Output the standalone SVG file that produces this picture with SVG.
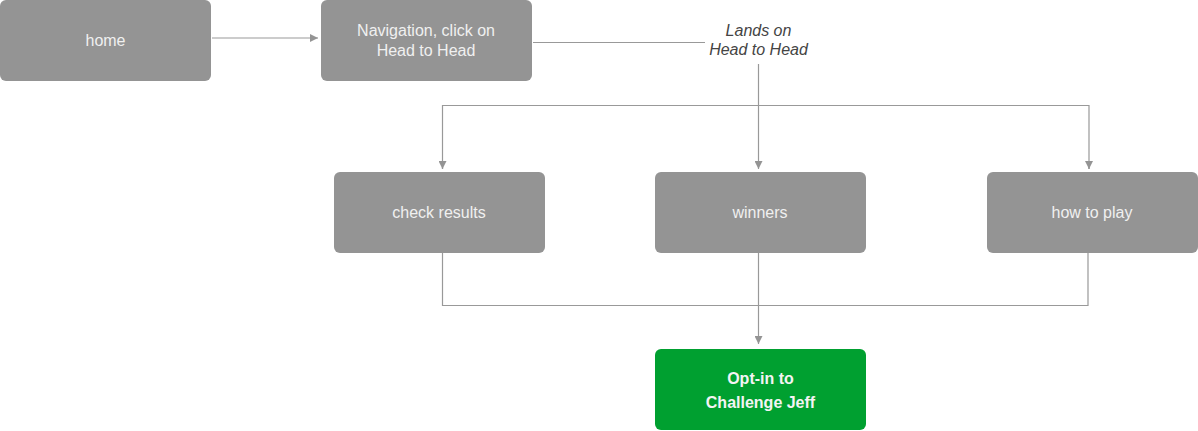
<svg xmlns="http://www.w3.org/2000/svg" width="1198" height="431" viewBox="0 0 1198 431">
<defs>
<marker id="ah" viewBox="0 0 10 10" refX="10" refY="5" markerWidth="8" markerHeight="8" markerUnits="userSpaceOnUse" orient="auto">
<path d="M0,0 L10,5 L0,10 z" fill="#949494"/>
</marker>
<style>
.box{fill:#949494}
.green{fill:#00a030}
.t{font-family:"Liberation Sans",Arial,sans-serif;font-size:16px;fill:#f0f0f0;text-anchor:middle}
.b{font-weight:bold;fill:#f4f4f4}
.lbl{font-family:"Liberation Sans",Arial,sans-serif;font-size:16px;font-style:italic;fill:#444;text-anchor:middle}
.c{fill:none;stroke:#999;stroke-width:1.2}
</style>
</defs>
<g id="connectors">
<line class="c" x1="212" y1="38" x2="318" y2="38" marker-end="url(#ah)"/>
<line class="c" x1="533" y1="42.5" x2="705" y2="42.5"/>
<line class="c" x1="758.5" y1="64" x2="758.5" y2="169" marker-end="url(#ah)"/>
<polyline class="c" points="442.5,169 442.5,105.5 1089,105.5 1089,169"/>
<line class="c" x1="442.5" y1="167" x2="442.5" y2="169" marker-end="url(#ah)"/>
<line class="c" x1="1089" y1="167" x2="1089" y2="169" marker-end="url(#ah)"/>
<polyline class="c" points="442.5,253 442.5,305.5 1088,305.5 1088,253"/>
<line class="c" x1="758.5" y1="253" x2="758.5" y2="344" marker-end="url(#ah)"/>
<text class="lbl" x="758.5" y="36">Lands on</text>
<text class="lbl" x="758.5" y="55">Head to Head</text>
</g>
<g id="home">
<rect class="box" x="0" y="0" width="211" height="81" rx="6"/>
<text class="t" x="105.5" y="46">home</text>
</g>
<g id="navigation">
<rect class="box" x="321" y="0" width="211" height="81" rx="6"/>
<text class="t" x="426" y="36">Navigation, click on</text>
<text class="t" x="426" y="56">Head to Head</text>
</g>
<g id="check-results">
<rect class="box" x="334" y="172" width="211" height="81" rx="6"/>
<text class="t" x="439" y="218">check results</text>
</g>
<g id="winners">
<rect class="box" x="655" y="172" width="211" height="81" rx="6"/>
<text class="t" x="760" y="218">winners</text>
</g>
<g id="how-to-play">
<rect class="box" x="987" y="172" width="211" height="81" rx="6"/>
<text class="t" x="1092" y="218">how to play</text>
</g>
<g id="opt-in">
<rect class="green" x="655" y="349" width="211" height="81" rx="6"/>
<text class="t b" x="760.5" y="384">Opt-in to</text>
<text class="t b" x="760.5" y="408">Challenge Jeff</text>
</g>
</svg>
